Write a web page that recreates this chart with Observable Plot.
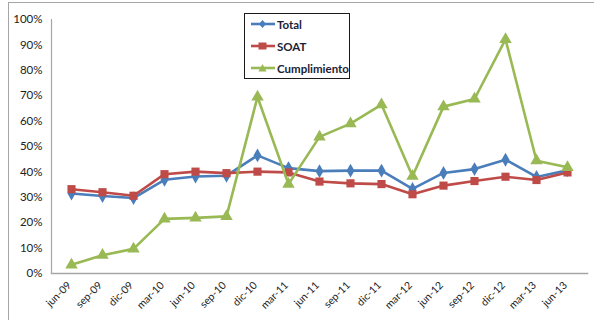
<!DOCTYPE html>
<html>
<head>
<meta charset="utf-8">
<script src="https://cdn.jsdelivr.net/npm/d3@7"></script>
<script src="https://cdn.jsdelivr.net/npm/@observablehq/plot@0.6"></script>
<style>
  html, body { margin: 0; padding: 0; background: #fff; }
  #wrap { position: relative; width: 594px; height: 320px; overflow: hidden; font-family: Lato, "Open Sans", sans-serif; }
  #frame { position: absolute; left: 8px; top: 2px; width: 620px; height: 340px;
           border-top: 1.5px solid #a6a6a6; border-left: 1.5px solid #a6a6a6; pointer-events: none; }
  #chart { position: absolute; left: 0; top: 0; }
  #legend { position: absolute; left: 244px; top: 13px; width: 104px; height: 64px;
            border: 1.5px solid #1a1a1a; background: #fff; }
  .item { position: absolute; left: 6px; display: flex; align-items: center; height: 14px;
          font: bold 11.5px Lato, "Open Sans", sans-serif; color: #1b2236; }
  .item svg { margin-right: 2px; }
</style>
</head>
<body>
<div id="wrap">
  <div id="frame"></div>
  <div id="chart"></div>
  <div id="legend"></div>
</div>
<script>
// Quarterly periods
const periods = ["jun-09","sep-09","dic-09","mar-10","jun-10","sep-10","dic-10","mar-11","jun-11",
                 "sep-11","dic-11","mar-12","jun-12","sep-12","dic-12","mar-13","jun-13"];

// Series values (share, 0–1)
const total        = [0.315,0.305,0.297,0.369,0.382,0.385,0.465,0.415,0.403,0.405,0.405,0.333,0.396,0.411,0.448,0.380,0.406];
const soat         = [0.332,0.320,0.306,0.391,0.401,0.395,0.401,0.398,0.362,0.355,0.352,0.312,0.346,0.364,0.381,0.368,0.398];
const cumplimiento = [0.034,0.072,0.097,0.215,0.219,0.225,0.695,0.352,0.538,0.590,0.665,0.383,0.657,0.687,0.922,0.444,0.418];

const seriesNames = ["Total", "SOAT", "Cumplimiento"];
const seriesColors = ["#4a7ebb", "#be4b48", "#98b954"];
const seriesSymbols = ["diamond", "square", "triangle"];
const seriesR = [4.2, 4.6, 4.6];
const yTicks = [0,0.1,0.2,0.3,0.4,0.5,0.6,0.7,0.8,0.9,1];

const seriesValues = [total, soat, cumplimiento];
const rows = seriesNames.flatMap((name, s) =>
  periods.map((p, i) => ({serie: name, periodo: p, valor: seriesValues[s][i]})));

const marks = [];
seriesNames.forEach((name, s) => {
  const data = rows.filter(d => d.serie === name);
  marks.push(Plot.line(data, {x: "periodo", y: "valor", stroke: seriesColors[s], strokeWidth: 2.6}));
  marks.push(Plot.dot(data, {x: "periodo", y: "valor", symbol: () => seriesSymbols[s],
                             fill: seriesColors[s], stroke: "none", r: seriesR[s]}));
});

const chart = Plot.plot({
  width: 594,
  height: 320,
  marginLeft: 51,
  marginRight: 7,
  marginTop: 19,
  marginBottom: 47,
  style: {fontFamily: "Lato, 'Open Sans', sans-serif", fontSize: "11px", color: "#222", background: "transparent"},
  x: {type: "point", domain: periods, padding: 0.5},
  y: {domain: [0, 1]},
  symbol: {type: "identity"},
  marks: [
    Plot.axisY({ticks: yTicks, tickFormat: d3.format(".0%"), tickSize: 0, tickPadding: 9, label: null, fontSize: 11.5}),
    Plot.axisX({tickSize: 0, tickPadding: 10, dx: -2, tickRotate: -45, label: null, fontSize: 10.5}),
    Plot.frame({anchor: "left", stroke: "#a6a6a6", strokeWidth: 1.2}),
    Plot.frame({anchor: "bottom", stroke: "#a6a6a6", strokeWidth: 1.5}),
    ...marks
  ]
});
document.getElementById("chart").appendChild(chart);

// Legend entries
const legend = document.getElementById("legend");
const itemTops = [3, 25, 47];
const shapes = {
  diamond: "M11.5,1 L15,5 L11.5,9 L8,5 Z",
  square: "M7.5,1.5 L15.5,1.5 L15.5,8.5 L7.5,8.5 Z",
  triangle: "M11.5,1 L15.5,8.5 L7.5,8.5 Z"
};
seriesNames.forEach((name, s) => {
  const item = document.createElement("div");
  item.className = "item";
  item.style.top = itemTops[s] + "px";
  item.innerHTML =
    `<svg width="24" height="10" viewBox="0 0 24 10">
       <line x1="0" y1="5" x2="24" y2="5" stroke="${seriesColors[s]}" stroke-width="2.6"/>
       <path d="${shapes[seriesSymbols[s]]}" fill="${seriesColors[s]}"/>
     </svg><span>${name}</span>`;
  legend.appendChild(item);
});
</script>
</body>
</html>
